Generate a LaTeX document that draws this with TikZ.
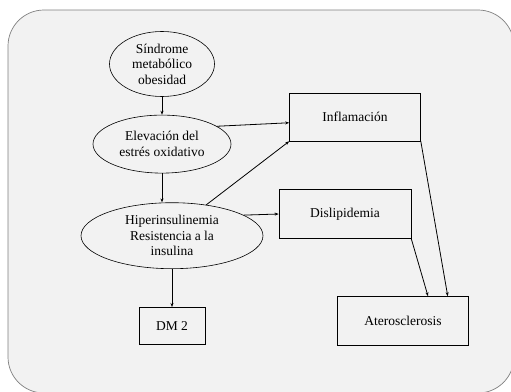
\documentclass[tikz,border=0pt]{standalone}
\usepackage{fontspec}
\setmainfont{Liberation Serif}
\usetikzlibrary{arrows.meta, positioning, shapes, calc}
\definecolor{panelgray}{HTML}{F2F2F2}
\definecolor{framegray}{HTML}{7F7F7F}

\begin{document}
\begin{tikzpicture}[x=1pt, y=-1pt,
    every node/.style={font=\fontsize{13.5}{15.5}\selectfont, align=center},
    elli/.style={draw, ellipse, inner sep=0pt, line width=0.6pt},
    box/.style={draw, rectangle, inner sep=0pt, minimum width=131pt,
                minimum height=48pt, line width=0.6pt},
    arr/.style={-{Stealth[length=4pt, width=3pt]}, line width=0.8pt}]
      \useasboundingbox (0,0) rectangle (511,391);
      \draw[fill=panelgray, draw=framegray, rounded corners=36pt, line width=0.7pt]
        (8,10) rectangle (514,393);
      % left column
      \node[elli, minimum width=105pt, minimum height=65pt] (sind) at (162,64)
            {Síndrome\\metabólico\\obesidad};
      \node[elli, minimum width=138pt, minimum height=58pt, below=18pt of sind] (elev)
            {Elevación del\\estrés oxidativo};
      \node[elli, minimum width=182pt, minimum height=66pt, below=29pt of elev,
            xshift=10pt] (hiper)
            {Hiperinsulinemia\\Resistencia a la\\insulina};
      \node[box, minimum width=66pt, minimum height=37pt, below=38pt of hiper] (dm)
            {DM 2};
      % right column
      \node[box] (infl) at (355,117) {Inflamación};
      \node[box, minimum width=132pt, minimum height=49pt] (disl) at (345,214)
            {Dislipidemia};
      \node[box, minimum height=49pt] (ater) at (403,321) {Aterosclerosis};
      \draw[arr] (sind) -- (elev);
      \draw[arr] (elev.18) -- (infl.185);
      \draw[arr] (elev.south) -- (elev.south |- hiper.north);
      \draw[arr] (hiper.42) -- (infl.south west);
      \draw[arr] (hiper.16) -- (disl.west);
      \draw[arr] (hiper) -- (dm);
      \draw[arr] (infl.south east) -- ($(ater.north west)!0.84!(ater.north east)$);
      \draw[arr] (disl.south east) -- ($(ater.north west)!0.69!(ater.north east)$);
    \end{tikzpicture}
\end{document}
